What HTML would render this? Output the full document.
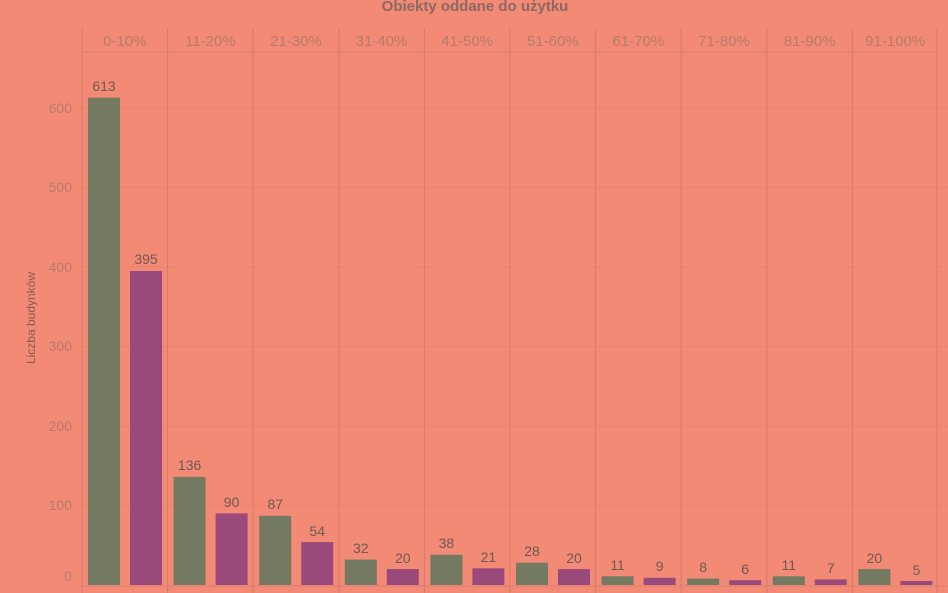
<html><head><style>body{margin:0;background:#F28A75;}</style></head><body>
<svg width="948" height="593" xmlns="http://www.w3.org/2000/svg" font-family="Liberation Sans, DejaVu Sans, sans-serif">
<rect width="948" height="593" fill="#F28A75"/>
<text x="475" y="11" text-anchor="middle" font-size="15" font-weight="bold" fill="#8a6a62">Obiekty oddane do użytku</text>
<g stroke="#d9806d" stroke-width="1">
<line x1="82" y1="52" x2="937" y2="52"/>
<line x1="82" y1="108" x2="948" y2="108" opacity="0.5"/>
<line x1="82" y1="187.5" x2="948" y2="187.5" opacity="0.5"/>
<line x1="82" y1="267" x2="948" y2="267" opacity="0.5"/>
<line x1="82" y1="346.5" x2="948" y2="346.5" opacity="0.5"/>
<line x1="82" y1="426" x2="948" y2="426" opacity="0.5"/>
<line x1="82" y1="505.5" x2="948" y2="505.5" opacity="0.5"/>
<line x1="82" y1="586" x2="948" y2="586"/>
</g>
<g stroke="#d47d6a">
<line x1="82" y1="28" x2="82" y2="593"/><line x1="167.6" y1="28" x2="167.6" y2="593"/><line x1="253.2" y1="28" x2="253.2" y2="593"/><line x1="338.8" y1="28" x2="338.8" y2="593"/><line x1="424.4" y1="28" x2="424.4" y2="593"/><line x1="510" y1="28" x2="510" y2="593"/><line x1="595.6" y1="28" x2="595.6" y2="593"/><line x1="681.2" y1="28" x2="681.2" y2="593"/><line x1="766.8" y1="28" x2="766.8" y2="593"/><line x1="852.4" y1="28" x2="852.4" y2="593"/><line x1="937" y1="28" x2="937" y2="593"/>
</g>
<g font-size="15" fill="#b87a6c" text-anchor="middle">
<text x="124.8" y="46">0-10%</text><text x="210.4" y="46">11-20%</text><text x="296" y="46">21-30%</text><text x="381.6" y="46">31-40%</text><text x="467.2" y="46">41-50%</text><text x="552.8" y="46">51-60%</text><text x="638.4" y="46">61-70%</text><text x="724" y="46">71-80%</text><text x="809.6" y="46">81-90%</text><text x="895.2" y="46">91-100%</text>
</g>
<g fill="#747A62">
<rect x="88" y="97.7" width="32" height="487.3"/>
<rect x="173.6" y="476.9" width="32" height="108.1"/>
<rect x="259.2" y="515.8" width="32" height="69.2"/>
<rect x="344.8" y="559.6" width="32" height="25.4"/>
<rect x="430.4" y="554.8" width="32" height="30.2"/>
<rect x="516" y="562.7" width="32" height="22.3"/>
<rect x="601.6" y="576.3" width="32" height="8.7"/>
<rect x="687.2" y="578.6" width="32" height="6.4"/>
<rect x="772.8" y="576.3" width="32" height="8.7"/>
<rect x="858.4" y="569.1" width="32" height="15.9"/>
</g>
<g fill="#9A4A7A">
<rect x="130" y="271" width="32" height="314"/>
<rect x="215.6" y="513.4" width="32" height="71.6"/>
<rect x="301.2" y="542.1" width="32" height="42.9"/>
<rect x="386.8" y="569.1" width="32" height="15.9"/>
<rect x="472.4" y="568.3" width="32" height="16.7"/>
<rect x="558" y="569.1" width="32" height="15.9"/>
<rect x="643.6" y="577.8" width="32" height="7.2"/>
<rect x="729.2" y="580.2" width="32" height="4.8"/>
<rect x="814.8" y="579.4" width="32" height="5.6"/>
<rect x="900.4" y="581" width="32" height="4"/>
</g>
<g font-size="14" fill="#6e5a52" text-anchor="middle">
<text x="104" y="91">613</text>
<text x="189.6" y="470">136</text>
<text x="275.2" y="509">87</text>
<text x="360.8" y="553">32</text>
<text x="446.4" y="548">38</text>
<text x="532" y="556">28</text>
<text x="617.6" y="570">11</text>
<text x="703.2" y="572">8</text>
<text x="788.8" y="570">11</text>
<text x="874.4" y="563">20</text>
<text x="146" y="264">395</text>
<text x="231.6" y="507">90</text>
<text x="317.2" y="536">54</text>
<text x="402.8" y="563">20</text>
<text x="488.4" y="562">21</text>
<text x="574" y="563">20</text>
<text x="659.6" y="571">9</text>
<text x="745.2" y="574">6</text>
<text x="830.8" y="573">7</text>
<text x="916.4" y="575">5</text>
</g>
<text transform="translate(35,318) rotate(-90)" text-anchor="middle" font-size="12" fill="#8a5a52">Liczba budynków</text>
<g font-size="14" fill="#b87a6c" text-anchor="end">
<text x="72" y="113">600</text><text x="72" y="192">500</text><text x="72" y="272">400</text><text x="72" y="351">300</text><text x="72" y="431">200</text><text x="72" y="510">100</text><text x="72" y="581">0</text>
</g>
</svg></body></html>
